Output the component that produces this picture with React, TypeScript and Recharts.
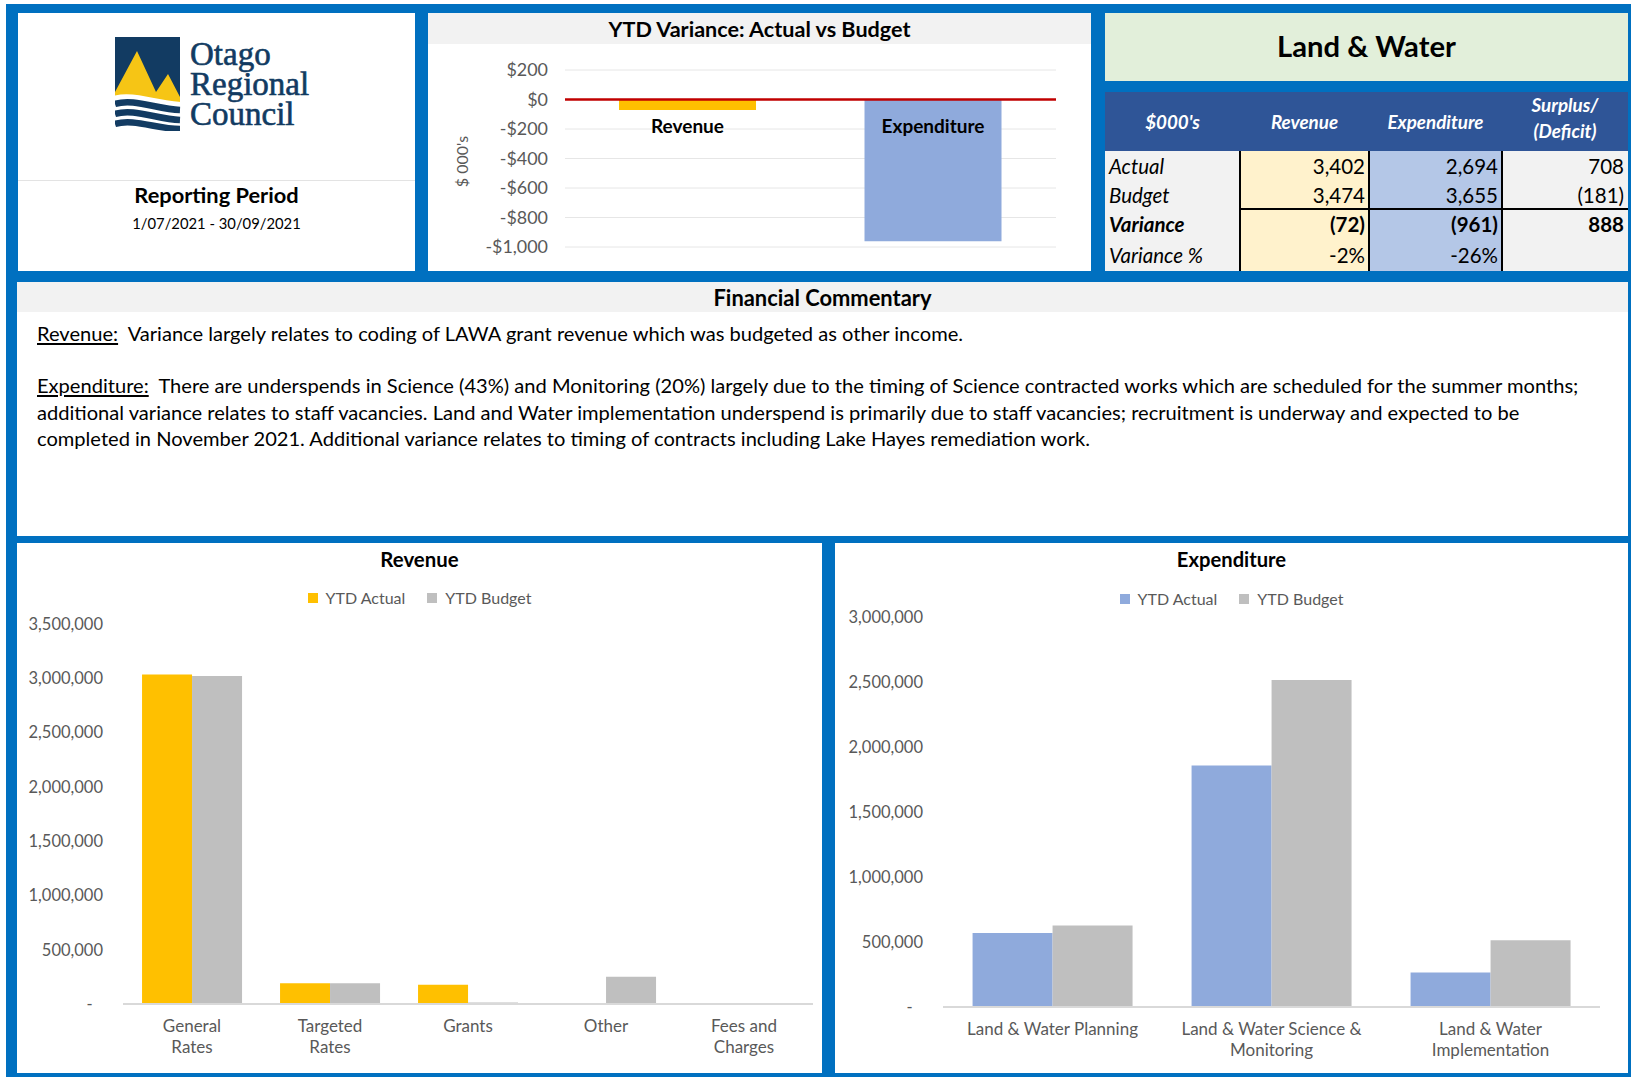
import React from 'react';
import { BarChart, Bar, XAxis, YAxis, CartesianGrid, ReferenceLine, LabelList, Legend, Cell } from 'recharts';

// ---------------- DATA ----------------
const varianceCategories = ['Revenue', 'Expenditure'];
const varianceValues = [-72, -961];
const varianceColors = ['#FFC000', '#8FAADC'];
const varianceTicks = [200, 0, -200, -400, -600, -800, -1000];

const revenueCategories = ['General Rates', 'Targeted Rates', 'Grants', 'Other', 'Fees and Charges'];
const revenueActual = [3035000, 190000, 177000, 0, 0];
const revenueBudget = [3020000, 190000, 14000, 250000, 0];
const revenueTicks = [0, 500000, 1000000, 1500000, 2000000, 2500000, 3000000, 3500000];

const expenditureCategories = ['Land & Water Planning', 'Land & Water Science & Monitoring', 'Land & Water Implementation'];
const expenditureActual = [570000, 1858000, 266000];
const expenditureBudget = [626000, 2515000, 514000];
const expenditureTicks = [0, 500000, 1000000, 1500000, 2000000, 2500000, 3000000];

const seriesNames = ['YTD Actual', 'YTD Budget'];

const tableHeaders = ["$000's", 'Revenue', 'Expenditure', 'Surplus/|(Deficit)'];
const tableRowLabels = ['Actual', 'Budget', 'Variance', 'Variance %'];
const tableRevenue = ['3,402', '3,474', '(72)', '-2%'];
const tableExpenditure = ['2,694', '3,655', '(961)', '-26%'];
const tableSurplus = ['708', '(181)', '888', ''];

const logoWords = ['Otago', 'Regional', 'Council'];

const commentaryRevenue = 'Variance largely relates to coding of LAWA grant revenue which was budgeted as other income.';
const commentaryExpenditure = [
  'There are underspends in Science (43%) and Monitoring (20%) largely due to the timing of Science contracted works which are scheduled for the summer months;',
  'additional variance relates to staff vacancies. Land and Water implementation underspend is primarily due to staff vacancies; recruitment is underway and expected to be',
  'completed in November 2021. Additional variance relates to timing of contracts including Lake Hayes remediation work.',
];

// ---------------- STYLE ----------------
const FONT = 'Lato, "Open Sans", sans-serif';
const BLUE = '#0070C0';
const TEXT_GRAY = '#595959';
const NAVY = '#123B62';
const LOGO_YELLOW = '#F6C515';
const BUDGET_GRAY = '#BFBFBF';

const varianceData = varianceCategories.map((name, i) => ({ name, value: varianceValues[i] }));
const revenueData = revenueCategories.map((name, i) => ({ name, actual: revenueActual[i], budget: revenueBudget[i] }));
const expenditureData = expenditureCategories.map((name, i) => ({ name, actual: expenditureActual[i], budget: expenditureBudget[i] }));

function wrapLabel(text: string, maxChars: number): string[] {
  const words = text.split(' ');
  const lines: string[] = [];
  let cur = '';
  for (const w of words) {
    const next = cur ? cur + ' ' + w : w;
    if (next.length > maxChars && cur) {
      lines.push(cur);
      cur = w;
    } else cur = next;
  }
  if (cur) lines.push(cur);
  return lines;
}

const fmtDollar = (v: number) => (v < 0 ? `-$${Math.abs(v).toLocaleString('en-US')}` : `$${v.toLocaleString('en-US')}`);
const fmtNum = (v: number) => (v === 0 ? '-\u2002\u2009' : v.toLocaleString('en-US'));

const WrapTick = (props: any) => {
  const { x, y, payload, maxChars } = props;
  const lines = wrapLabel(String(payload.value), maxChars);
  return (
    <text x={x} y={y} textAnchor="middle" fill={TEXT_GRAY} fontSize={17} fontFamily={FONT}>
      {lines.map((l, i) => (
        <tspan key={i} x={x} y={y + 28 + i * 21}>
          {l}
        </tspan>
      ))}
    </text>
  );
};

const CatLabel = (props: any) => {
  const vb = props.viewBox || props;
  const { x, y, width, height } = vb;
  const zeroY = Math.min(y, y + height);
  return (
    <text x={x + width / 2} y={zeroY + 33} textAnchor="middle" fontWeight="bold" fontSize={19} fontFamily={FONT} fill="#000">
      {props.value}
    </text>
  );
};

const VarAxisLabel = (props: any) => {
  const vb = props.viewBox || {};
  const cx = (vb.x || 0) + 33;
  const cy = (vb.y || 0) + (vb.height || 0) / 2 + 3;
  return (
    <text x={cx} y={cy} transform={`rotate(-90 ${cx} ${cy})`} textAnchor="middle" dominantBaseline="central" fill={TEXT_GRAY} fontSize={16} fontFamily={FONT}>
      $ 000's
    </text>
  );
};

const LegendContent = (props: any) => {
  const payload = props.payload || [];
  return (
    <div style={{ display: 'flex', justifyContent: 'center', gap: 22, fontFamily: FONT, fontSize: 16, color: TEXT_GRAY }}>
      {payload.map((p: any, i: number) => (
        <span key={i} style={{ display: 'flex', alignItems: 'center' }}>
          <span style={{ display: 'inline-block', width: 10, height: 10, background: p.color, marginRight: 8 }} />
          {p.value}
        </span>
      ))}
    </div>
  );
};

const panel = (left: number, top: number, width: number, height: number, extra: any = {}) => ({
  position: 'absolute' as const,
  left,
  top,
  width,
  height,
  background: '#fff',
  overflow: 'hidden' as const,
  ...extra,
});

function Logo() {
  return (
    <>
      <svg width={66} height={94} style={{ position: 'absolute', left: 97, top: 24 }}>
        <rect x={0} y={0} width={65} height={68} fill={NAVY} />
        <path d="M0 55 L22 14 L41 55 L53 37 L65 60 L65 70 L0 70 Z" fill={LOGO_YELLOW} />
        <path d="M-2 59 C18 53, 42 64, 67 65 L67 96 L-2 96 Z" fill="#fff" />
        <path d="M0 67 C18 61, 42 72, 65 73" stroke={NAVY} strokeWidth={6.5} fill="none" />
        <path d="M0 77 C18 71, 42 82, 65 83" stroke={NAVY} strokeWidth={6.5} fill="none" />
        <path d="M0 87 C18 81, 42 92, 65 92" stroke={NAVY} strokeWidth={6.5} fill="none" />
      </svg>
      <svg width={200} height={130} style={{ position: 'absolute', left: 170, top: 0 }}>
        <text x={2} y={52} fontFamily='"Liberation Serif", serif' fontSize={33} fill={NAVY} stroke={NAVY} strokeWidth={0.6}>
          {logoWords.map((t, i) => (
            <tspan key={t} x={2} y={52 + i * 30}>
              {t}
            </tspan>
          ))}
        </text>
      </svg>
    </>
  );
}

export default function App() {
  const tableLeft = 1105;
  const tableTop = 92;
  const colX = [0, 135, 264, 397, 523];
  const rowY = [59, 88, 117, 147, 179];
  const colBg = ['#F2F2F2', '#FFF2CC', '#B4C7E7', '#F2F2F2'];
  const bodyCols = [tableRowLabels, tableRevenue, tableExpenditure, tableSurplus];
  const commentStyle = { position: 'absolute' as const, left: 20, whiteSpace: 'pre' as const, fontSize: 20.1, lineHeight: '26px', color: '#000' };

  return (
    <div style={{ position: 'fixed', left: 0, top: 0, width: 1631, height: 1078, background: '#fff', fontFamily: FONT, overflow: 'hidden' }}>
      <div style={{ position: 'absolute', left: 6, top: 4, width: 1625, height: 1073, background: BLUE }} />

      {/* Top-left: logo & reporting period */}
      <div style={panel(18, 13, 397, 258)}>
        <Logo />
        <div style={{ position: 'absolute', left: 0, top: 167, width: 397, height: 1, background: '#E3E3E3' }} />
        <div style={{ position: 'absolute', left: 0, top: 169, width: 397, textAlign: 'center', fontWeight: 700, fontSize: 21.8, lineHeight: '26px', color: '#000' }}>
          Reporting Period
        </div>
        <div style={{ position: 'absolute', left: 0, top: 200, width: 397, textAlign: 'center', fontSize: 14.8, lineHeight: '20px', color: '#000' }}>
          1/07/2021 - 30/09/2021
        </div>
      </div>

      {/* Top-middle: variance chart */}
      <div style={panel(428, 13, 663, 258)}>
        <div style={{ position: 'absolute', left: 0, top: 0, width: 663, height: 31, background: '#F2F2F2' }} />
        <div style={{ position: 'absolute', left: 0, top: 2, width: 663, textAlign: 'center', fontWeight: 700, fontSize: 21.6, lineHeight: '28px', color: '#000' }}>
          YTD Variance: Actual vs Budget
        </div>
        <div style={{ position: 'absolute', left: 0, top: 0 }}>
          <BarChart width={663} height={258} data={varianceData} margin={{ top: 57, right: 35, bottom: 24, left: 0 }} barCategoryGap="22%">
            <CartesianGrid vertical={false} stroke="#E6E6E6" />
            <XAxis dataKey="name" hide />
            <YAxis
              width={137}
              domain={[-1000, 200]}
              ticks={varianceTicks}
              interval={0}
              tickFormatter={fmtDollar}
              axisLine={false}
              tickLine={false}
              tickMargin={11}
              tick={{ fill: TEXT_GRAY, fontSize: 17.9, fontFamily: FONT }}
              label={<VarAxisLabel />}
            />
            <Bar dataKey="value" isAnimationActive={false}>
              {varianceData.map((d, i) => (
                <Cell key={d.name} fill={varianceColors[i]} />
              ))}
              <LabelList dataKey="name" content={<CatLabel />} />
            </Bar>
            <ReferenceLine y={0} stroke="#C00000" strokeWidth={2.5} />
          </BarChart>
        </div>
      </div>

      {/* Top-right: Land & Water title */}
      <div style={panel(1105, 13, 523, 68, { background: '#E2EFDA' })}>
        <div style={{ position: 'absolute', left: 0, top: 16, width: 523, textAlign: 'center', fontWeight: 700, fontSize: 29.2, lineHeight: '34px', color: '#000' }}>
          Land &amp; Water
        </div>
      </div>

      {/* Top-right: summary table */}
      <div style={panel(tableLeft, tableTop, 523, 179, { background: '#F2F2F2' })}>
        <div style={{ position: 'absolute', left: 0, top: 0, width: 523, height: rowY[0], background: '#2F5597' }} />
        {tableHeaders.map((h, c) => {
          const parts = h.split('|');
          return (
            <div
              key={h}
              style={{
                position: 'absolute',
                left: colX[c],
                width: colX[c + 1] - colX[c],
                top: parts.length > 1 ? -4 : 0,
                height: rowY[0],
                display: 'flex',
                flexDirection: 'column',
                justifyContent: 'center',
                alignItems: 'center',
                color: '#fff',
                fontWeight: 700,
                fontStyle: 'italic',
                fontSize: 18.8,
                lineHeight: '26px',
              }}
            >
              {parts.map((p) => (
                <span key={p}>{p}</span>
              ))}
            </div>
          );
        })}
        {bodyCols.map((col, c) => (
          <div key={c} style={{ position: 'absolute', left: colX[c], width: colX[c + 1] - colX[c], top: rowY[0], height: rowY[4] - rowY[0], background: colBg[c] }}>
            {col.map((v, r) => (
              <div
                key={r}
                style={{
                  position: 'absolute',
                  left: c === 0 ? 4 : 0,
                  right: c === 0 ? 0 : 4,
                  top: rowY[r] - rowY[0],
                  height: rowY[r + 1] - rowY[r],
                  display: 'flex',
                  alignItems: 'center',
                  justifyContent: c === 0 ? 'flex-start' : 'flex-end',
                  fontSize: 20.5,
                  fontStyle: c === 0 ? 'italic' : 'normal',
                  fontWeight: r === 2 ? 700 : 400,
                  color: '#000',
                }}
              >
                {v}
              </div>
            ))}
          </div>
        ))}
        {[1, 2, 3].map((c) => (
          <div key={c} style={{ position: 'absolute', left: colX[c] - 1, top: rowY[0], width: 2, height: rowY[4] - rowY[0], background: '#000' }} />
        ))}
        <div style={{ position: 'absolute', left: colX[1] - 1, top: rowY[2] - 1, width: colX[4] - colX[1] + 1, height: 2, background: '#000' }} />
      </div>

      {/* Commentary */}
      <div style={panel(17, 282, 1611, 254)}>
        <div style={{ position: 'absolute', left: 0, top: 0, width: 1611, height: 30, background: '#F2F2F2' }} />
        <div style={{ position: 'absolute', left: 0, top: 2, width: 1611, textAlign: 'center', fontWeight: 700, fontSize: 21.9, lineHeight: '28px', color: '#000' }}>
          Financial Commentary
        </div>
        <div style={{ ...commentStyle, top: 38 }}>
          <span style={{ textDecoration: 'underline' }}>Revenue:</span>
          {'  ' + commentaryRevenue}
        </div>
        {commentaryExpenditure.map((line, i) => (
          <div key={i} style={{ ...commentStyle, top: 90 + i * 26.5 }}>
            {i === 0 ? (
              <>
                <span style={{ textDecoration: 'underline' }}>Expenditure:</span>
                {'  ' + line}
              </>
            ) : (
              line
            )}
          </div>
        ))}
      </div>

      {/* Revenue chart */}
      <div style={panel(17, 543, 805, 530)}>
        <div style={{ position: 'absolute', left: 0, top: 3, width: 805, textAlign: 'center', fontWeight: 700, fontSize: 20.4, lineHeight: '26px', color: '#000' }}>
          Revenue
        </div>
        <div style={{ position: 'absolute', left: 0, top: 0 }}>
          <BarChart width={805} height={528} data={revenueData} margin={{ top: 81, right: 9, bottom: 7, left: 0 }} barCategoryGap="13.8%" barGap={0}>
            <XAxis
              dataKey="name"
              height={60}
              interval={0}
              axisLine={{ stroke: '#D9D9D9', strokeWidth: 2 }}
              tickLine={false}
              tickSize={0}
              tickMargin={0}
              tick={<WrapTick maxChars={10} />}
            />
            <YAxis
              width={106}
              domain={[0, 3500000]}
              ticks={revenueTicks}
              interval={0}
              tickFormatter={fmtNum}
              axisLine={false}
              tickLine={false}
              tickMargin={14}
              tick={{ fill: TEXT_GRAY, fontSize: 16.5, fontFamily: FONT }}
            />
            <Legend verticalAlign="middle" align="center" wrapperStyle={{ top: 45, left: 0, width: 805 }} content={<LegendContent />} />
            <Bar dataKey="actual" name={seriesNames[0]} fill="#FFC000" isAnimationActive={false} />
            <Bar dataKey="budget" name={seriesNames[1]} fill={BUDGET_GRAY} isAnimationActive={false} />
          </BarChart>
        </div>
      </div>

      {/* Expenditure chart */}
      <div style={panel(835, 543, 793, 530)}>
        <div style={{ position: 'absolute', left: 0, top: 3, width: 793, textAlign: 'center', fontWeight: 700, fontSize: 20.2, lineHeight: '26px', color: '#000' }}>
          Expenditure
        </div>
        <div style={{ position: 'absolute', left: 0, top: 0 }}>
          <BarChart width={793} height={528} data={expenditureData} margin={{ top: 74, right: 28, bottom: 4, left: 0 }} barCategoryGap="13.5%" barGap={0}>
            <XAxis
              dataKey="name"
              height={60}
              interval={0}
              axisLine={{ stroke: '#D9D9D9', strokeWidth: 2 }}
              tickLine={false}
              tickSize={0}
              tickMargin={0}
              tick={<WrapTick maxChars={22} />}
            />
            <YAxis
              width={108}
              domain={[0, 3000000]}
              ticks={expenditureTicks}
              interval={0}
              tickFormatter={fmtNum}
              axisLine={false}
              tickLine={false}
              tickMargin={14}
              tick={{ fill: TEXT_GRAY, fontSize: 16.5, fontFamily: FONT }}
            />
            <Legend verticalAlign="middle" align="center" wrapperStyle={{ top: 46, left: 0, width: 793 }} content={<LegendContent />} />
            <Bar dataKey="actual" name={seriesNames[0]} fill="#8FAADC" isAnimationActive={false} />
            <Bar dataKey="budget" name={seriesNames[1]} fill={BUDGET_GRAY} isAnimationActive={false} />
          </BarChart>
        </div>
      </div>
    </div>
  );
}
